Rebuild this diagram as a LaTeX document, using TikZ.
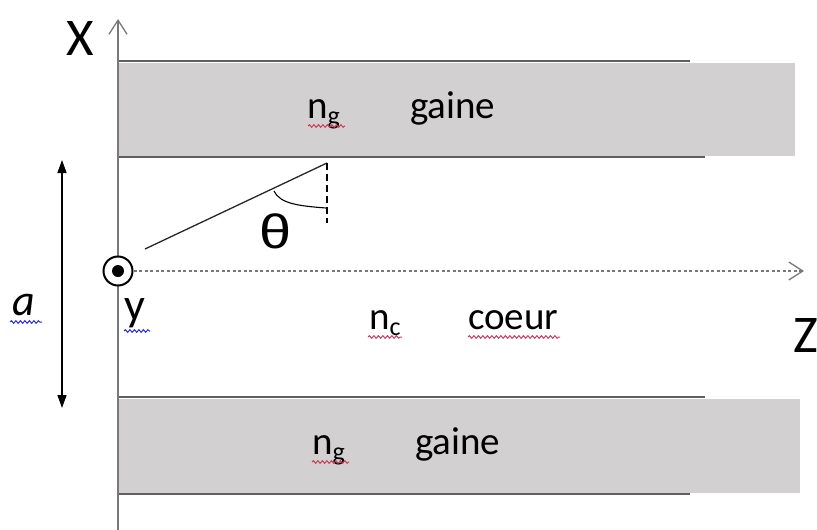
\documentclass[tikz,border=0pt]{standalone}
\usepackage{fontspec}
\setmainfont{Carlito}
\newfontfamily\greeksans{Liberation Sans}
\usetikzlibrary{arrows.meta,decorations.pathmorphing,calc}
\definecolor{gainefill}{RGB}{210,208,208}
\definecolor{edgegray}{RGB}{95,95,95}
\definecolor{axisgray}{RGB}{120,120,120}
\definecolor{squigred}{RGB}{200,60,90}
\definecolor{squigblue}{RGB}{40,40,220}
\newcommand\subsc[1]{{\fontsize{26}{26}\selectfont\raisebox{-6pt}{#1}}}
\begin{document}
\begin{tikzpicture}[x=1pt,y=-1pt,
  lbl/.style={inner sep=0pt,anchor=base west,text=black,font=\fontsize{39}{39}\selectfont},
  biglbl/.style={inner sep=0pt,anchor=base west,text=black,font=\fontsize{53}{53}\selectfont},
  gainebox/.style={fill=gainefill,draw=none},
  edgeline/.style={draw=edgegray,line width=1.8pt},
  axisline/.style={draw=axisgray,line width=1.3pt},
  squiggle/.style={decorate,decoration={snake,amplitude=1.3pt,segment length=4.5pt},line width=1pt},
  chev/.style={-{Straight Barb[length=14pt,width=18pt,line width=1.3pt]}}
  ]
\useasboundingbox (0,0) rectangle (817,530);

% cladding bands
\fill[gainebox] (118,63) rectangle (795,156);
\fill[gainebox] (118,399) rectangle (800,493);
\draw[edgeline] (118,61) -- (690,61);
\draw[edgeline] (118,157) -- (705,157);
\draw[edgeline] (118,397) -- (705,397);
\draw[edgeline] (118,494) -- (690,494);

% X axis
\coordinate (xbot) at (118,530);
\coordinate (xtop) at (118,19);
\draw[axisline,chev] (xbot) -- (xtop);
\node[biglbl] (xlabel) at (66,55) {X};

% y axis symbol (out of plane)
\node[circle,draw=black,line width=2pt,minimum size=29pt,inner sep=0pt,fill=white] (ycirc) at (118,271) {};
\fill[black] (ycirc.center) circle (6pt);
\node[inner sep=0pt,anchor=base west,font=\fontsize{46}{46}\selectfont] (ylabel) at (124,320) {y};
\draw[squiggle,squigblue] (124,331) -- (150,331);

% Z axis
\coordinate (zend) at (804,271);
\draw[axisline,dash pattern=on 3pt off 2.5pt,line width=1.2pt] (ycirc.east) -- (zend);
\draw[axisline,chev] ($(zend)+(-1,0)$) -- (zend);
\node[biglbl] (zlabel) at (793,352) {Z};

% thickness arrow a
\coordinate (atop) at (62,160);
\coordinate (abot) at (62,408);
\draw[line width=1.3pt,{Triangle[length=13pt,width=9pt]}-{Triangle[length=13pt,width=9pt]}] (abot) -- (atop);
\node[inner sep=0pt,anchor=base west,font=\fontsize{44}{44}\itshape\selectfont] (alabel) at (12,315) {a};
\draw[squiggle,squigblue] (10,322) -- (42,322);

% ray and angle
\coordinate (raystart) at (145,249);
\coordinate (rayend) at (327,163);
\coordinate (normend) at (327,223);
\draw[line width=1.3pt,draw=black!85] (raystart) -- (rayend);
\draw[line width=1.6pt,dash pattern=on 7pt off 4pt] (rayend) -- (normend);
\draw[line width=1.1pt] (274,191) .. controls (280,204) and (300,206) .. (326,208);
\node[inner sep=0pt,font=\greeksans\fontsize{48}{48}\selectfont] (theta) at (276,231) {\scalebox{1.2}[1]{θ}};

% labels
\node[lbl] (ng1) at (307,118) {n\subsc{g}};
\draw[squiggle,squigred] (308,126) -- (345,126);
\node[lbl] (gaine1) at (410,118) {gaine};

\node[lbl] (nc) at (369,329) {n\subsc{c}};
\draw[squiggle,squigred] (368,337) -- (402,337);
\node[lbl] (coeur) at (468,329) {coeur};
\draw[squiggle,squigred] (468,337) -- (560,337);

\node[lbl] (ng2) at (312,454) {n\subsc{g}};
\draw[squiggle,squigred] (312,462) -- (349,462);
\node[lbl] (gaine2) at (415,454) {gaine};
\end{tikzpicture}
\end{document}
